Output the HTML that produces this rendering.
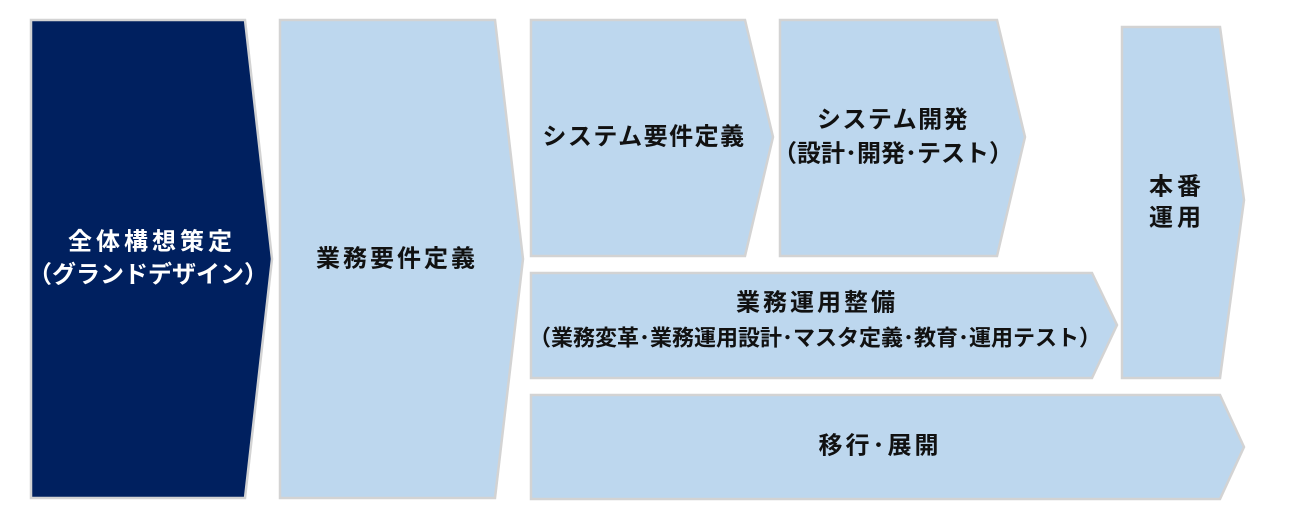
<!DOCTYPE html>
<html><head><meta charset="utf-8"><style>
html,body{margin:0;padding:0;background:#fff;}
svg{display:block;}
text{font-family:"Liberation Sans","Noto Sans CJK JP",sans-serif;font-size:24px;font-weight:bold;text-anchor:middle;dominant-baseline:central;fill:#111;letter-spacing:1px;}
</style></head><body>
<svg width="1300" height="520" viewBox="0 0 1300 520">
<g stroke="#d3d3d3" stroke-width="2.5" fill="#bdd7ee">
<polygon points="31,20 245,20 272,259 245,498 31,498" fill="#00205f"/>
<polygon points="280,20 495,20 523,259 495,498 280,498"/>
<polygon points="531,20 745,20 773,137 745,256 531,256"/>
<polygon points="780,20 997,20 1025,137 997,256 780,256"/>
<polygon points="531,273 1092,273 1117,325 1092,378 531,378"/>
<polygon points="1122,27 1220,27 1244,200 1220,378 1122,378"/>
<polygon points="531,395 1220,395 1244,447 1220,499 531,499"/>
</g>
<text x="152" y="242" style="fill:#fff;letter-spacing:4px">全体構想策定</text>
<text x="148" y="275" style="fill:#fff;letter-spacing:0">（グランドデザイン）</text>
<text x="397" y="259" style="letter-spacing:3px">業務要件定義</text>
<text x="644" y="137" style="letter-spacing:1.5px">システム要件定義</text>
<text x="893" y="120" style="letter-spacing:1.5px">システム開発</text>
<text x="893" y="154" style="letter-spacing:0">（設計･開発･テスト）</text>
<text x="817" y="303" style="letter-spacing:3px">業務運用整備</text>
<text x="815" y="338" style="font-size:22px;letter-spacing:0">（業務変革･業務運用設計･マスタ定義･教育･運用テスト）</text>
<text x="1177" y="187" style="letter-spacing:4px">本番</text>
<text x="1177" y="218" style="letter-spacing:4px">運用</text>
<text x="880" y="446" style="letter-spacing:3px">移行･展開</text>
</svg>
</body></html>
